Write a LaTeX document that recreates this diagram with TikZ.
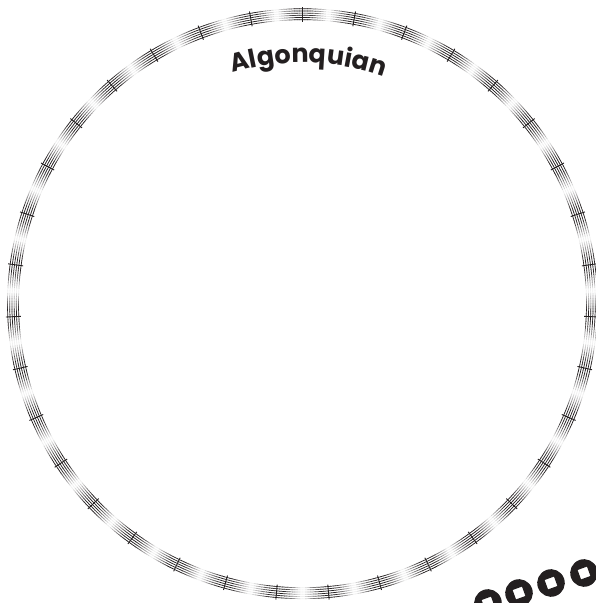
\documentclass[tikz,border=0pt]{standalone}
\usepackage{fontspec}
\setmainfont{Poppins}
\usetikzlibrary{decorations.text}
\definecolor{inkblack}{HTML}{231F20}

\begin{document}
\begin{tikzpicture}[
    x=1pt,y=1pt,
    band/.style={line width=0.7pt},
    tickmark/.style={line width=0.9pt,draw=inkblack},
    bead/.style={fill=inkblack,even odd rule}
  ]
  \useasboundingbox (0,0) rectangle (596,603);
  \coordinate (c) at (302.5,299.3);
  % shaded band of rings
  \foreach \k in {0,...,699}{
    \pgfmathsetmacro{\a}{90+\k*0.5142857}
    \pgfmathsetmacro{\b}{\a+0.5942857}
    \pgfmathsetmacro{\d}{abs(1-2*(mod(\k,20)+0.5)/20)}
    \pgfmathsetmacro{\p}{100*min(1,1.35*\d)}
    \draw[band,draw=inkblack!\p] \foreach \r in {284,286.2,288.4,290.6,292.8,295}{
      ([shift={(\a:\r)}]c) arc[start angle=\a,end angle=\b,radius=\r]};
  }
  % tick marks
  \foreach \k in {0,...,34}
    \draw[tickmark] ([shift={(90+\k*10.285714:282)}]c) -- ([shift={(90+\k*10.285714:297)}]c);
  % title
  \path[decorate,decoration={text along path,text align=center,
      text={|\fontsize{25.5}{25.5}\bfseries\color{inkblack}|Algonquian}}]
    ([shift={(148.6:241)}]c) arc[start angle=148.6,end angle=28.6,radius=241];
  % beads
  \foreach \x/\y in {584/30,551/20,519/10,488/0}{
    \begin{scope}[shift={(\x,\y)},rotate=20]
      \fill[bead] (0,0) circle[radius=13.8] (-5,-5) rectangle (5,5);
    \end{scope}
  }
\end{tikzpicture}
\end{document}
